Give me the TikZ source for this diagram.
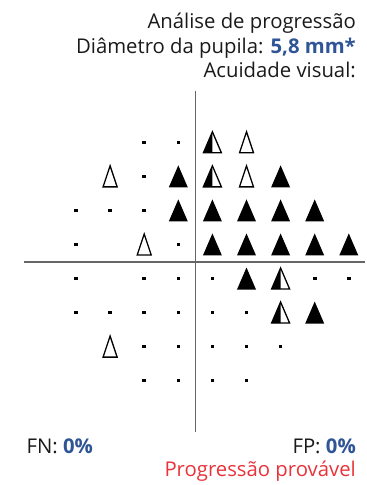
\documentclass[tikz,border=0pt]{standalone}
\usepackage{fontspec}
\setmainfont{Open Sans}
\definecolor{valblue}{HTML}{2F5597}
\definecolor{progred}{HTML}{E8333A}
\definecolor{axisgray}{HTML}{666666}
\definecolor{txt}{HTML}{1A1A1A}
\tikzset{
  lbl/.style={font=\fontsize{20.3}{24}\selectfont, text=txt, inner sep=0pt},
  axisline/.style={draw=axisgray, line width=1.4pt},
  pics/opentri/.style={code={\draw[line width=1.3pt, line join=miter] (-7,10.5)--(0,-10.5)--(7,10.5)--cycle;}},
  pics/filltri/.style={code={\fill[black] (-9.5,11)--(0,-11)--(9.5,11)--cycle;}},
  pics/halftri/.style={code={\fill[black] (-9,10.5)--(0,-10.5)--(0,10.5)--cycle;
     \draw[line width=1.3pt, line join=miter] (-9,10.5)--(0,-10.5)--(9,10.5)--cycle;}},
  pics/dotm/.style={code={\fill[black] (-1.8,-1.8) rectangle (1.8,1.8);}}
}
\begin{document}
\begin{tikzpicture}[x=1pt,y=-1pt]
\useasboundingbox (0,0) rectangle (367,485);
% header
\node[lbl, anchor=base east] (t1) at (356,28.5) {Análise de progressão};
\node[lbl, anchor=base east] (t2) at (356,53) {Diâmetro da pupila: \textcolor{valblue}{\bfseries 5,8 mm*}};
\node[lbl, anchor=base east] (t3) at (356,77) {Acuidade visual:};
% axes
\coordinate (vtop) at (195.3,90.5);
\coordinate (vbot) at (195.3,431.5);
\coordinate (hl) at (24,262);
\coordinate (hr) at (365,262);
\draw[axisline] (vtop) -- (vbot);
\draw[axisline] (hl) -- (hr);
% symbols: x = 76 + 34.1*c, y = 142.3 + 34.05*r
\newcommand{\symat}[3]{\pic at ({76+34.1*#2},{142.3+34.05*#1}) {#3};}
% row 0
\foreach \c in {2,3} {\symat{0}{\c}{dotm}}
\symat{0}{4}{halftri}
\symat{0}{5}{opentri}
% row 1
\symat{1}{1}{opentri}
\symat{1}{2}{dotm}
\symat{1}{3}{filltri}
\symat{1}{4}{halftri}
\symat{1}{5}{opentri}
\symat{1}{6}{filltri}
% row 2
\foreach \c in {0,1,2} {\symat{2}{\c}{dotm}}
\foreach \c in {3,...,7} {\symat{2}{\c}{filltri}}
% row 3
\symat{3}{0}{dotm}
\symat{3}{2}{opentri}
\symat{3}{3}{dotm}
\foreach \c in {4,...,8} {\symat{3}{\c}{filltri}}
% row 4
\foreach \c in {0,2,3,4,7,8} {\symat{4}{\c}{dotm}}
\symat{4}{5}{filltri}
\symat{4}{6}{halftri}
% row 5
\foreach \c in {0,...,5} {\symat{5}{\c}{dotm}}
\symat{5}{6}{halftri}
\symat{5}{7}{filltri}
% row 6
\symat{6}{1}{opentri}
\foreach \c in {2,...,6} {\symat{6}{\c}{dotm}}
% row 7
\foreach \c in {2,...,5} {\symat{7}{\c}{dotm}}
% footer
\node[lbl, anchor=base west] (fn) at (26.5,453) {FN: \textcolor{valblue}{\bfseries 0\%}};
\node[lbl, anchor=base east] (fp) at (356,453) {FP: \textcolor{valblue}{\bfseries 0\%}};
\node[lbl, anchor=base east, text=progred] (pp) at (356,476) {Progressão provável};
\end{tikzpicture}
\end{document}
